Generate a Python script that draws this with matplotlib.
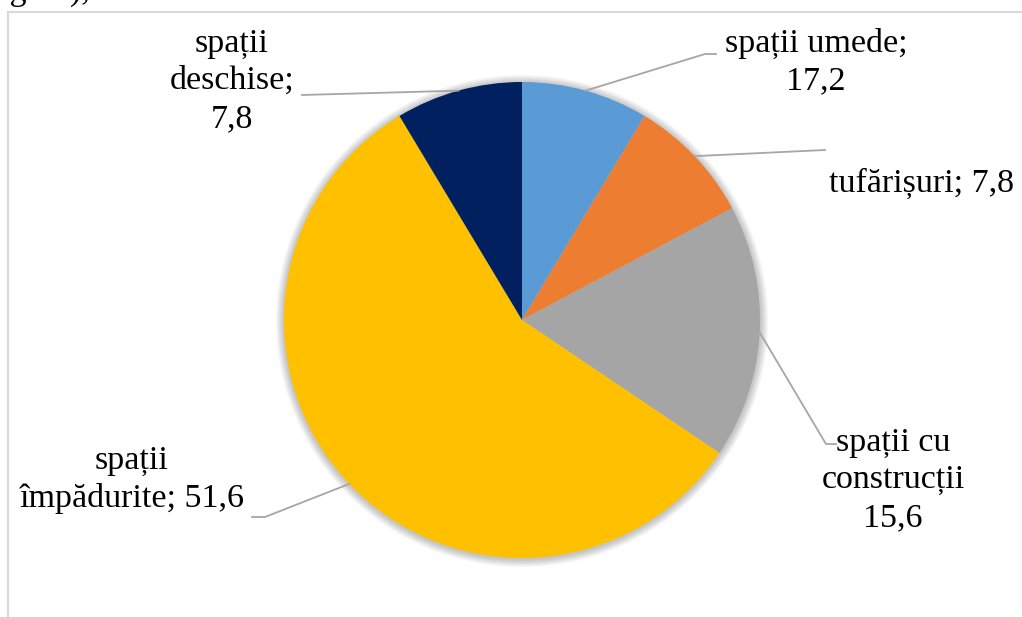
import numpy as np
import matplotlib
matplotlib.use("Agg")
import matplotlib.pyplot as plt
from matplotlib.patches import Circle

# slice sizes as drawn, and the numbers printed in the labels
categories = ["spații umede", "tufărișuri", "spații cu construcții",
              "spații împădurite", "spații deschise"]
slice_values = [7.8, 7.8, 15.6, 51.6, 7.8]
label_values = ["17,2", "7,8", "15,6", "51,6", "7,8"]
label_texts = ["spații umede;\n17,2", "tufărișuri; 7,8", "spații cu\nconstrucții\n15,6",
               "spații\nîmpădurite; 51,6", "spații\ndeschise;\n7,8"]
colors = ["#5B9BD5", "#ED7D31", "#A5A5A5", "#FFC000", "#002060"]

W, H = 1022, 617
cx, cy, R = 522, H - 320, 238

# label anchor (text center) and leader elbow, in pixels from top-left
label_pos = [(816, 62), (922, 183), (893, 480), (132, 480), (232, 81)]
elbows = [[(705, 54), (716, 54)], [(825, 150)], [(826, 444), (836, 444)],
          [(265, 517), (252, 517)], [(302, 95)]]

plt.rcParams["font.family"] = ["Liberation Serif", "DejaVu Serif"]

fig = plt.figure(figsize=(W / 100, H / 100), dpi=100)
ax = fig.add_axes([0, 0, 1, 1])

# soft shadow around the pie
for i in range(10):
    ax.add_patch(Circle((cx, cy - 1), R + 1 + i * 0.8, color="black",
                        alpha=0.025, lw=0, zorder=1))

wedges, _ = ax.pie(slice_values, colors=colors, startangle=90, counterclock=False,
                   center=(cx, cy), radius=R, frame=True,
                   wedgeprops=dict(linewidth=0, zorder=2))
ax.set_xlim(0, W)
ax.set_ylim(0, H)
ax.set_aspect("equal")
ax.axis("off")

for w, txt, pos, elb in zip(wedges, label_texts, label_pos, elbows):
    mid = np.deg2rad((w.theta1 + w.theta2) / 2)
    x0, y0 = cx + R * np.cos(mid), cy + R * np.sin(mid)
    xs = [x0] + [p[0] for p in elb]
    ys = [y0] + [H - p[1] for p in elb]
    ax.plot(xs, ys, color="#A6A6A6", lw=1.3, zorder=3)
    ax.text(pos[0], H - pos[1], txt, ha="center", va="center", fontsize=24.5,
            linespacing=1.3, color="black", zorder=4)

# chart frame (partly cut off by the picture edge)
ax.plot([8, W + 5], [H - 12, H - 12], color="#D9D9D9", lw=1.5, clip_on=False)
ax.plot([8, 8], [H - 12, -5], color="#D9D9D9", lw=1.5, clip_on=False)

# caption above the chart, cut by the top edge
ax.text(0, H + 8, "igură),", ha="left", va="center", fontsize=24.5)

fig.savefig("out.png", dpi=100)
